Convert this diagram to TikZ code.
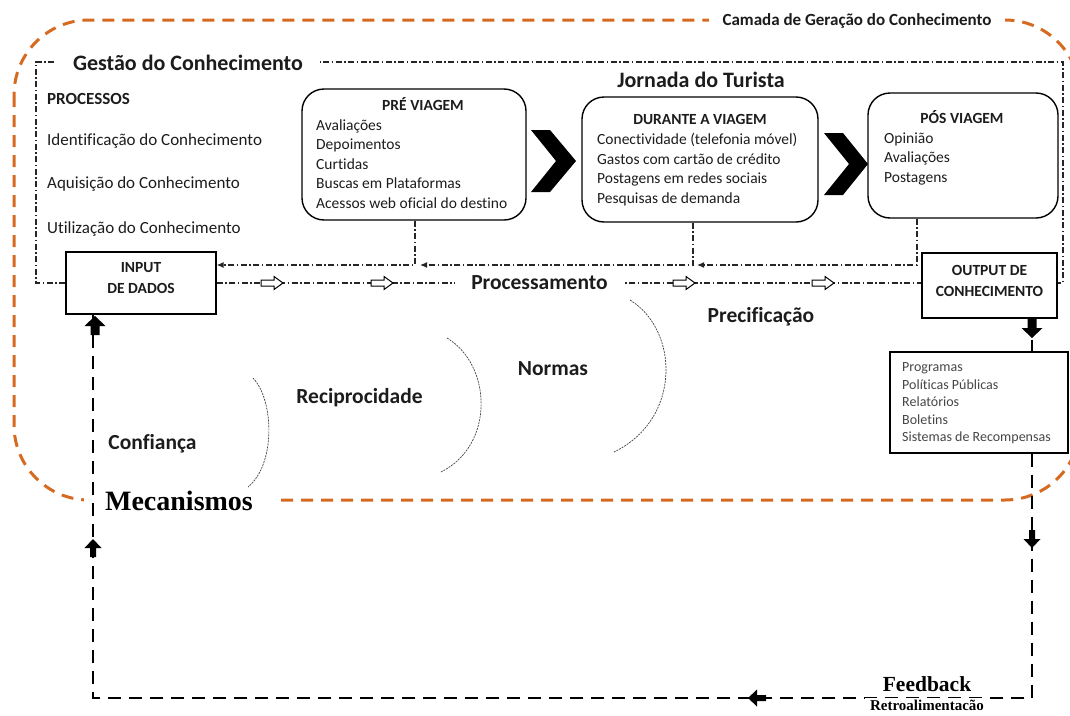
\documentclass[tikz,border=0pt]{standalone}
\usepackage{fontspec}
\setmainfont{Carlito}[Ligatures=NoCommon]
\newfontfamily\timesfam{Liberation Serif}
\usetikzlibrary{arrows.meta}

\definecolor{layer}{RGB}{214,106,32}
\definecolor{ink}{RGB}{28,28,28}
\definecolor{soft}{RGB}{70,70,70}

\tikzset{
  layerline/.style={draw=layer, line width=3pt, dash pattern=on 12pt off 8pt},
  dashdot/.style={draw=black!85, line width=1.1pt,
    dash pattern=on 6pt off 2.5pt on 1.5pt off 2.5pt},
  loopline/.style={draw=black, line width=2.6pt, dash pattern=on 13pt off 8pt},
  stagebox/.style={draw=black, line width=1.4pt, rounded corners=22pt},
  databox/.style={draw=black, line width=1.4pt, fill=white},
  % hollow arrow sitting on the processing line (points along +x)
  openarr/.pic={
    \draw[black, fill=white, line width=1pt, line join=miter]
      (-11,-3) -- (2,-3) -- (2,-6.5) -- (11,0) -- (2,6.5) -- (2,3) -- (-11,3) -- cycle;},
  % solid block arrow (points along +x)
  blockarr/.pic={
    \fill[black] (-9,-4.5) -- (0,-4.5) -- (0,-10.5) -- (10,0) -- (0,10.5)
      -- (0,4.5) -- (-9,4.5) -- cycle;},
  smallblockarr/.pic={
    \fill[black] (-9,-3) -- (0,-3) -- (0,-8.5) -- (9,0) -- (0,8.5)
      -- (0,3) -- (-9,3) -- cycle;},
  arcline/.style={draw=black!75, line width=0.7pt, dash pattern=on 2pt off 1pt},
  heading/.style={font=\fontsize{22}{26}\selectfont\bfseries, text=ink, inner sep=0pt},
  label/.style={font=\fontsize{21.5}{25}\selectfont\bfseries, text=ink, inner sep=0pt},
  process/.style={font=\fontsize{17}{20}\selectfont, text=ink, anchor=west, inner sep=0pt},
  boxtitle/.style={font=\fontsize{15.5}{18}\selectfont\bfseries, text=ink, inner sep=0pt},
  items/.style={font=\fontsize{15.5}{19.5}\selectfont, text=ink, align=left,
    anchor=north west, inner sep=0pt},
  smallitems/.style={font=\fontsize{14}{17.5}\selectfont, text=soft, align=left,
    anchor=north west, inner sep=0pt},
}

\begin{document}
\begin{tikzpicture}[x=1pt, y=-1pt]
\useasboundingbox (0,0) rectangle (1070,715);
\clip (0,0) rectangle (1070,715);

% outer layer: knowledge generation
\draw[layerline, rounded corners=75pt] (14,20) rectangle (1080,500);
\node[font=\fontsize{17}{20}\selectfont\bfseries, text=ink, fill=white,
      inner xsep=14pt, inner ysep=3pt] (camada) at (857,21)
  {Camada de Geração do Conhecimento};
\node[font=\fontsize{28}{30}\selectfont\bfseries\timesfam, text=black, fill=white,
      inner xsep=21pt, inner ysep=2pt] (mecanismos) at (179,501)
  {Mecanismos};

% main boxes
\node[databox, minimum width=150pt, minimum height=62pt] (input) at (141,283) {};
\node[boxtitle, align=center, font=\fontsize{15.5}{21.5}\selectfont\bfseries]
  (inputtxt) at (141,278) {INPUT\\DE DADOS};
\node[databox, minimum width=135pt, minimum height=65pt] (output) at (989.5,285.5) {};
\node[boxtitle, align=center, font=\fontsize{15.5}{21.5}\selectfont\bfseries]
  (outputtxt) at (989.5,281) {OUTPUT DE\\CONHECIMENTO};

\node[stagebox, minimum width=224pt, minimum height=131pt] (pre) at (414,154.5) {};
\node[stagebox, minimum width=236pt, minimum height=125pt] (dur) at (700,159.5) {};
\node[stagebox, minimum width=190pt, minimum height=125pt] (pos) at (963,155.5) {};

% knowledge management frame
\coordinate (frameBL) at (36,283);
\coordinate (frameTL) at (36,62);
\coordinate (frameTR) at (1063,62);
\coordinate (frameBR) at (1063,283);
\draw[dashdot] (input.west) -- (frameBL) -- (frameTL) -- (frameTR) -- (frameBR)
  -- (output.east |- frameBR);
\node[heading, fill=white, inner xsep=17pt, inner ysep=2pt] (gestao) at (188,63)
  {Gestão do Conhecimento};

% processing line
\draw[dashdot] (input.east) -- (input.east -| output.west);
\pic at (272,283) {openarr};
\pic at (382,283) {openarr};
\pic at (684,283) {openarr};
\pic at (823,283) {openarr};
\node[label, fill=white, inner xsep=16pt, inner ysep=3pt] (proc) at (539.5,283)
  {Processamento};

% return taps from the journey stages
\coordinate (tapLine) at (0,265);
\coordinate (preTap) at (415,265);
\coordinate (durTap) at (693,265);
\draw[dashdot, -{Latex[length=7pt,width=6pt]}]
  (pre.south -| preTap) -- (preTap) -- (input.east |- tapLine);
\draw[dashdot, -{Latex[length=7pt,width=6pt]}]
  (dur.south -| durTap) -- (durTap) -- ([xshift=5pt]preTap);
\draw[dashdot, -{Latex[length=7pt,width=6pt]}]
  ([xshift=-46pt]pos.south) |- ([xshift=4pt]durTap);

% chevrons between stages
\fill[black] (531,130) -- (550,130) -- (576,161) -- (550,192) -- (531,192)
  -- (556,161) -- cycle;
\fill[black] (824,133) -- (843,133) -- (868,164) -- (843,195) -- (824,195)
  -- (849,164) -- cycle;

% stage contents
\node[heading] (jornada) at (701,80) {Jornada do Turista};
\node[boxtitle] (pretitle) at (423,104) {PRÉ VIAGEM};
\node[items] (preitems) at (316,119.5)
  {Avaliações\\Depoimentos\\Curtidas\\Buscas em Plataformas\\Acessos web oficial do destino};
\node[boxtitle] (durtitle) at (700,119) {DURANTE A VIAGEM};
\node[items] (duritems) at (597,133)
  {Conectividade (telefonia móvel)\\Gastos com cartão de crédito\\Postagens em redes sociais\\Pesquisas de demanda};
\node[boxtitle] (postitle) at (962,117) {PÓS VIAGEM};
\node[items] (positems) at (884,132.5)
  {Opinião\\Avaliações\\Postagens};

% processes column
\node[process, font=\fontsize{17}{20}\selectfont\bfseries] (processos) at (47,99) {PROCESSOS};
\node[process] (ident) at (47,141) {Identificação do Conhecimento};
\node[process] (aquis) at (47,184) {Aquisição do Conhecimento};
\node[process] (utiliz) at (47,229) {Utilização do Conhecimento};

% mechanisms
\draw[arcline] (253,378) .. controls (274,400) and (276,464) .. (248,487);
\draw[arcline] (447,338) .. controls (492,365) and (495,445) .. (441,472);
\draw[arcline] (630,300) .. controls (679,330) and (682,419) .. (614,452);
\node[label] (confianca) at (152.5,444) {Confiança};
\node[label] (recip) at (359.5,398) {Reciprocidade};
\node[label] (normas) at (553,369) {Normas};
\node[label] (precif) at (761,317) {Precificação};

% knowledge products
\node[databox, minimum width=178pt, minimum height=101pt] (list) at (979,402.5) {};
\node[smallitems] (listitems) at (902,362.5)
  {Programas\\Políticas Públicas\\Relatórios\\Boletins\\Sistemas de Recompensas};

% feedback loop
\coordinate (rightRail) at (1032,0);
\coordinate (leftRail) at (93,0);
\coordinate (bottomRail) at (0,698);
\draw[loopline] (rightRail |- output.south) -- (rightRail |- list.north);
\draw[loopline] (rightRail |- list.south) -- (rightRail |- bottomRail)
  -- (leftRail |- bottomRail) -- (leftRail |- input.south);
\pic[rotate=-90] at (1032,328) {blockarr};
\pic[rotate=-90] at (1032,539) {smallblockarr};
\pic[rotate=180] at (757,698) {smallblockarr};
\pic[rotate=90] at (93,548) {smallblockarr};
\pic[rotate=90] at (95,326) {blockarr};

\node[font=\fontsize{21.5}{24}\selectfont\bfseries\timesfam, text=black, inner sep=0pt]
  (feedback) at (927,684) {Feedback};
\node[font=\fontsize{15}{17}\selectfont\bfseries\timesfam, text=black, fill=white,
      inner xsep=5pt, inner ysep=2pt] (retro) at (927,705) {Retroalimentacão};
\end{tikzpicture}
\end{document}
